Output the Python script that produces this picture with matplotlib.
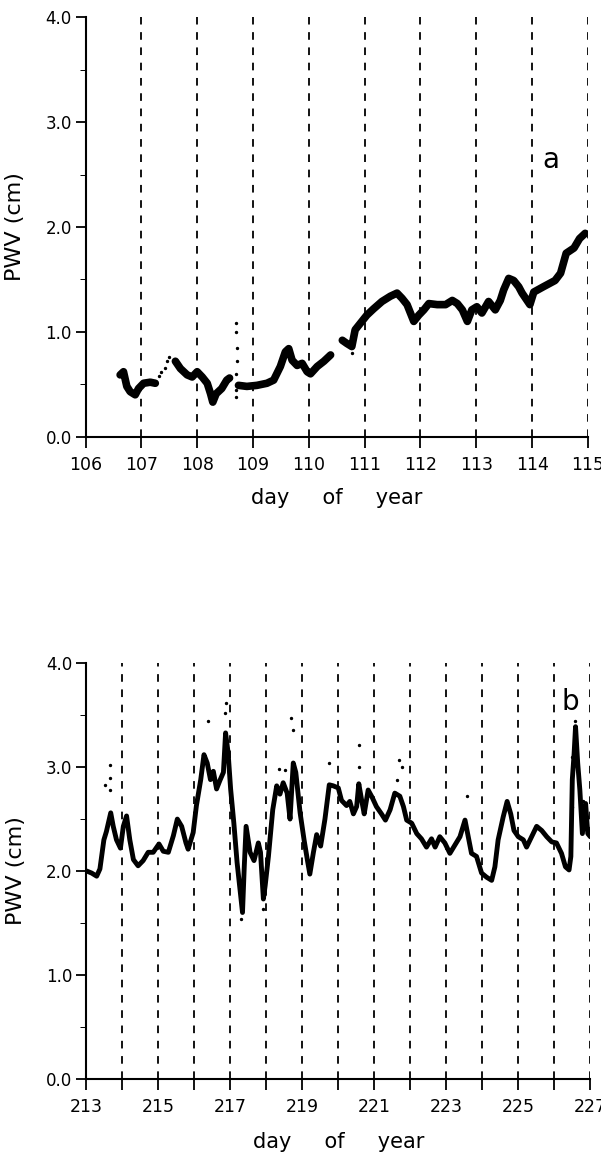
import numpy as np
import matplotlib
matplotlib.use('Agg')
import matplotlib.pyplot as plt
from matplotlib.ticker import FixedLocator

plt.rcParams['font.family'] = ['DejaVu Sans']
plt.rcParams['lines.scale_dashes'] = False

# Panel a: days 106-115, PWV in cm (nan marks data gaps)
day_a = [106.62, 106.68, 106.74, 106.80, 106.89, 106.95, 107.04, 107.16, 107.25, np.nan,
         107.61, 107.70, 107.82, 107.91, 108.00, 108.09, 108.18, 108.24, 108.28, 108.34, 108.44, 108.53,
         108.58, np.nan,
         108.74, 108.89, 109.07, 109.25, 109.37, 109.49, 109.58, 109.64, 109.70, 109.79, 109.88, 109.97,
         110.03, 110.15, 110.27, 110.39, np.nan,
         110.60, 110.68, 110.77, 110.83, 110.92, 111.04, 111.16, 111.31, 111.46, 111.58, 111.67, 111.76,
         111.88, 111.97, 112.06, 112.15, 112.30, 112.45, 112.57, 112.66, 112.75, 112.84, 112.92, 113.01,
         113.10, 113.22, 113.34, 113.43, 113.49, 113.58, 113.67, 113.76, 113.82, 113.96, 114.03, 114.20,
         114.41, 114.51, 114.61, 114.75, 114.85, 114.95]
pwv_a = [0.59, 0.62, 0.48, 0.43, 0.40, 0.46, 0.51, 0.52, 0.51, np.nan,
         0.72, 0.65, 0.59, 0.57, 0.62, 0.57, 0.51, 0.41, 0.33, 0.41, 0.46, 0.54,
         0.56, np.nan,
         0.49, 0.48, 0.49, 0.51, 0.54, 0.67, 0.81, 0.84, 0.73, 0.68, 0.70, 0.62,
         0.60, 0.67, 0.72, 0.78, np.nan,
         0.92, 0.89, 0.86, 1.02, 1.08, 1.16, 1.22, 1.29, 1.34, 1.37, 1.32, 1.26,
         1.10, 1.16, 1.21, 1.27, 1.26, 1.26, 1.30, 1.27, 1.21, 1.10, 1.21, 1.24,
         1.18, 1.29, 1.21, 1.30, 1.40, 1.51, 1.49, 1.43, 1.37, 1.26, 1.38, 1.43,
         1.49, 1.56, 1.75, 1.80, 1.89, 1.94]

# isolated samples in panel a
dots_day_a = [107.32, 107.36, 107.42, 107.46, 107.50, 108.70, 108.70, 108.71, 108.71, 108.70, 108.69, 108.70,
              110.77]
dots_pwv_a = [0.58, 0.62, 0.66, 0.72, 0.76, 1.08, 1.00, 0.85, 0.72, 0.60, 0.45, 0.38,
              0.80]

# Panel b: days 213-227
day_b = [213.01, 213.15, 213.29, 213.38, 213.49, 213.56, 213.68, 213.75, 213.84, 213.95, 214.03, 214.12,
         214.21, 214.31, 214.44, 214.58, 214.72, 214.86, 215.02, 215.14, 215.28, 215.42, 215.53, 215.65,
         215.77, 215.83, 215.97, 216.06, 216.18, 216.27, 216.36, 216.45, 216.53, 216.62, 216.71, 216.81,
         216.87, 216.94, 217.01, 217.10, 217.19, 217.29, 217.34, 217.39, 217.44, 217.55, 217.66, 217.78,
         217.84, 217.92, 217.97, 218.06, 218.18, 218.29, 218.38, 218.47, 218.58, 218.66, 218.75, 218.82,
         218.94, 219.05, 219.14, 219.21, 219.31, 219.40, 219.51, 219.63, 219.75, 219.86, 220.00, 220.09,
         220.23, 220.32, 220.42, 220.51, 220.57, 220.65, 220.72, 220.83, 220.94, 221.06, 221.20, 221.31,
         221.44, 221.57, 221.71, 221.81, 221.90, 222.04, 222.18, 222.31, 222.45, 222.59, 222.69, 222.82,
         222.96, 223.10, 223.24, 223.38, 223.52, 223.61, 223.70, 223.84, 223.98, 224.12, 224.26, 224.35,
         224.44, 224.58, 224.69, 224.79, 224.88, 225.00, 225.14, 225.23, 225.37, 225.51, 225.65, 225.79,
         225.93, 226.06, 226.20, 226.31, 226.41, 226.46, 226.50, 226.55, 226.59, 226.65, 226.71, 226.78,
         226.87, 226.93, 227.00]
pwv_b = [2.00, 1.98, 1.95, 2.02, 2.30, 2.38, 2.56, 2.43, 2.30, 2.22, 2.43, 2.53,
         2.30, 2.11, 2.05, 2.10, 2.18, 2.18, 2.26, 2.19, 2.18, 2.34, 2.50, 2.43,
         2.27, 2.21, 2.37, 2.63, 2.88, 3.12, 3.04, 2.88, 2.96, 2.79, 2.87, 2.95,
         3.33, 3.14, 2.79, 2.46, 2.08, 1.76, 1.60, 2.05, 2.43, 2.18, 2.10, 2.27,
         2.18, 1.73, 1.86, 2.14, 2.59, 2.82, 2.74, 2.85, 2.75, 2.50, 3.04, 2.95,
         2.56, 2.30, 2.11, 1.97, 2.18, 2.35, 2.24, 2.50, 2.83, 2.82, 2.80, 2.68,
         2.63, 2.67, 2.55, 2.62, 2.84, 2.68, 2.55, 2.78, 2.71, 2.62, 2.55, 2.49,
         2.59, 2.75, 2.72, 2.62, 2.49, 2.46, 2.36, 2.31, 2.23, 2.31, 2.23, 2.33,
         2.27, 2.17, 2.25, 2.33, 2.49, 2.33, 2.17, 2.14, 1.98, 1.94, 1.91, 2.04,
         2.30, 2.52, 2.67, 2.55, 2.39, 2.33, 2.30, 2.23, 2.33, 2.43, 2.39, 2.33,
         2.28, 2.27, 2.17, 2.04, 2.01, 2.14, 2.88, 3.13, 3.39, 3.04, 2.78, 2.36,
         2.65, 2.36, 2.33]

# isolated spikes in panel b
dots_day_b = [213.52, 213.66, 213.66, 213.66, 216.39, 216.86, 216.87, 217.29, 217.90,
              218.36, 218.52, 218.68, 218.75, 219.75, 220.57, 220.57, 221.62, 221.69, 221.76,
              223.58, 226.50, 226.50, 226.57, 226.81, 226.87]
dots_pwv_b = [2.83, 2.78, 2.90, 3.02, 3.44, 3.52, 3.62, 1.54, 1.63,
              2.98, 2.97, 3.47, 3.36, 3.04, 3.00, 3.21, 2.88, 3.07, 3.00,
              2.72, 2.62, 3.10, 3.44, 2.67, 2.43]

fig = plt.figure(figsize=(6.01, 11.56), dpi=100)
ax_a = fig.add_axes([0.1423, 0.6222, 0.836, 0.3628])
ax_b = fig.add_axes([0.1435, 0.0669, 0.8387, 0.3593])


def style_axes(ax, x0, x1, label_step):
    ax.set_xlim(x0, x1)
    ax.set_ylim(0, 4)
    for side in ('top', 'right'):
        ax.spines[side].set_visible(False)
    for side in ('left', 'bottom'):
        ax.spines[side].set_linewidth(1.5)
    # dashed line at every day boundary
    for d in range(x0 + 1, x1 + 1):
        ax.axvline(d, color='black', linewidth=1.3, dashes=[5.5, 5.5], zorder=1)
    ax.set_xticks(range(x0, x1 + 1))
    ax.set_xticklabels([str(d) if (d - x0) % label_step == 0 else '' for d in range(x0, x1 + 1)])
    ax.set_yticks([0, 1, 2, 3, 4])
    ax.set_yticklabels(['0.0', '1.0', '2.0', '3.0', '4.0'])
    ax.yaxis.set_minor_locator(FixedLocator([0.5, 1.5, 2.5, 3.5]))
    ax.tick_params(axis='y', which='major', direction='out', length=7, width=1.3, labelsize=12, pad=3)
    ax.tick_params(axis='y', which='minor', direction='out', length=4, width=0.7)
    ax.tick_params(axis='x', which='major', direction='out', length=8, width=1.3, labelsize=12.5, pad=6)
    ax.set_ylabel('PWV (cm)', fontsize=16)
    ax.yaxis.set_label_coords(-0.12, 0.5)
    ax.set_xlabel('day     of     year', fontsize=15)


style_axes(ax_a, 106, 115, 1)
ax_a.xaxis.set_label_coords(0.5, -0.122)
ax_a.plot(day_a, pwv_a, color='black', linewidth=5.5, solid_joinstyle='round',
          solid_capstyle='round', zorder=3)
ax_a.scatter(dots_day_a, dots_pwv_a, s=2, color='black', zorder=3)
ax_a.text(114.34, 2.64, 'a', fontsize=20, ha='center', va='center')

style_axes(ax_b, 213, 227, 2)
ax_b.xaxis.set_label_coords(0.5, -0.128)
ax_b.plot(day_b, pwv_b, color='black', linewidth=3.5, solid_joinstyle='round',
          solid_capstyle='round', zorder=3)
ax_b.scatter(dots_day_b, dots_pwv_b, s=2, color='black', zorder=3)
ax_b.text(226.45, 3.63, 'b', fontsize=20, ha='center', va='center')

fig.savefig('out.png', dpi=100)
